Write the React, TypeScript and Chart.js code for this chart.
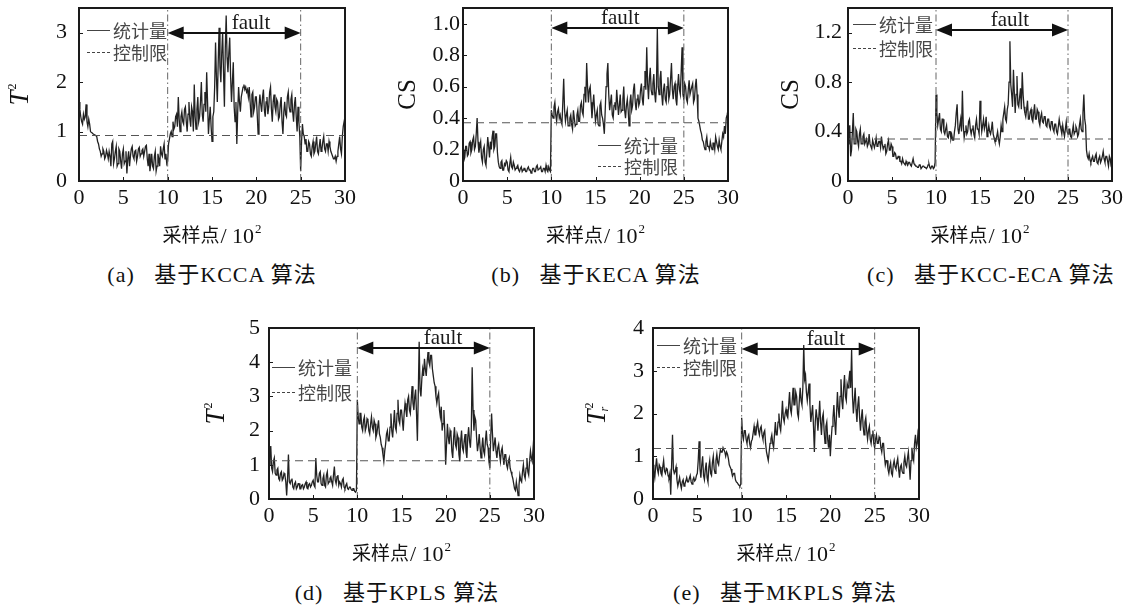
import { useEffect, useRef } from 'react';
import { Chart, registerables } from 'chart.js';

Chart.register(...registerables);

// sampling grid (unit: 10^2 samples)
const sampleStep = 0.1;
const xTickValues = [0, 5, 10, 15, 20, 25, 30];
const xTickLabels = ['0', '5', '10', '15', '20', '25', '30'];
const faultStart = 10;
const faultEnd = 25;
const legendLabels = ['统计量', '控制限'];
const faultLabel = 'fault';
const xAxisTitleMain = '采样点';
const xAxisTitleUnit = '/ 10';
const xAxisTitleExp = '2';

// (a) KCCA  T^2  (one row per 10^2 samples)
const kccaT2 = [
  1.6, 1.45, 1.3, 1.2, 1.15, 1.35, 1.25, 1.3, 1.55, 1.2,
  1.1, 1.25, 1.15, 1.0, 0.98, 0.97, 0.95, 0.94, 0.93, 0.92,
  0.9, 0.8, 0.75, 0.65, 0.6, 0.5, 0.55, 0.65, 0.6, 0.45,
  0.5, 0.62, 0.55, 0.45, 0.6, 0.5, 0.3, 0.75, 0.8, 0.35,
  0.45, 0.6, 0.7, 0.3, 0.35, 0.65, 0.6, 0.4, 0.25, 0.55,
  0.65, 0.35, 0.4, 0.6, 0.15, 0.45, 0.6, 0.3, 0.5, 0.65,
  0.7, 0.5, 0.45, 0.6, 0.62, 0.4, 0.5, 0.65, 0.68, 0.5,
  0.55, 0.62, 0.65, 0.5, 0.6, 0.7, 0.72, 0.45, 0.3, 0.55,
  0.2, 0.35, 0.55, 0.3, 0.25, 0.5, 0.6, 0.2, 0.3, 0.55,
  0.45, 0.3, 0.7, 0.55, 0.5, 0.65, 0.75, 0.45, 0.55, 0.35,
  0.4, 0.75, 0.85, 0.95, 1.0, 0.9, 1.2, 1.05, 1.1, 1.3,
  1.35, 1.1, 1.7, 1.25, 1.0, 1.3, 1.4, 1.2, 1.15, 1.45,
  1.5, 1.2, 1.0, 1.35, 1.6, 1.25, 1.1, 1.5, 1.4, 1.0,
  1.95, 1.3, 1.05, 1.45, 1.7, 1.2, 1.3, 1.6, 2.0, 1.35,
  1.2, 1.55, 1.8, 1.4, 2.2, 1.6, 0.95, 1.25, 1.5, 1.1,
  0.8, 1.3, 1.4, 1.9, 2.8, 2.1, 1.6, 2.4, 3.1, 2.3,
  2.0, 2.6, 3.0, 2.2, 1.5, 2.7, 3.35, 2.5, 2.2, 2.6,
  2.9, 2.1, 1.6, 2.0, 2.4, 1.5, 1.2, 1.6, 0.75, 1.4,
  1.9, 1.6, 1.4, 1.7, 1.8, 1.9, 1.95, 1.85, 1.9, 1.8,
  1.85, 1.7, 1.9, 1.6, 1.3, 1.75, 1.8, 1.4, 1.5, 1.7,
  1.7, 1.35, 0.95, 1.5, 1.75, 1.55, 1.4, 1.7, 1.85, 1.45,
  1.3, 1.6, 1.7, 1.35, 1.5, 1.8, 1.9, 1.45, 1.2, 1.6,
  1.75, 1.5, 1.4, 1.65, 1.6, 1.25, 1.3, 1.55, 1.7, 1.2,
  0.95, 1.4, 1.6, 1.35, 1.3, 1.7, 1.8, 1.5, 1.4, 1.65,
  1.75, 1.4, 1.2, 1.55, 1.7, 1.3, 1.0, 1.5, 1.2, 0.9,
  0.2, 0.8, 1.15, 0.95, 0.9, 0.75, 0.85, 0.6, 0.6, 0.8,
  0.75, 0.55, 0.5, 0.7, 0.8, 0.55, 0.6, 0.75, 0.9, 0.6,
  0.55, 0.7, 0.85, 0.6, 0.65, 0.8, 0.9, 0.65, 0.6, 0.75,
  0.75, 0.6, 0.8, 0.7, 0.6, 0.55, 0.5, 0.45, 0.45, 0.5,
  0.4, 0.5, 0.6, 0.75, 0.9, 0.65, 0.55, 0.9, 1.1, 1.2,
  1.3,
];

// (b) KECA  CS
const kecaCS = [
  0.2, 0.13, 0.15, 0.22, 0.22, 0.16, 0.17, 0.24, 0.25, 0.18,
  0.2, 0.26, 0.28, 0.2, 0.22, 0.3, 0.4, 0.25, 0.18, 0.22,
  0.25, 0.15, 0.12, 0.2, 0.22, 0.12, 0.1, 0.18, 0.28, 0.22,
  0.15, 0.25, 0.2, 0.28, 0.32, 0.2, 0.22, 0.3, 0.3, 0.18,
  0.12, 0.09, 0.08, 0.12, 0.13, 0.07, 0.07, 0.11, 0.1, 0.13,
  0.12, 0.07, 0.06, 0.11, 0.15, 0.09, 0.08, 0.12, 0.1, 0.07,
  0.08, 0.09, 0.1, 0.07, 0.06, 0.08, 0.09, 0.06, 0.07, 0.08,
  0.08, 0.06, 0.06, 0.08, 0.09, 0.07, 0.07, 0.05, 0.06, 0.08,
  0.08, 0.06, 0.06, 0.09, 0.1, 0.07, 0.07, 0.08, 0.09, 0.06,
  0.06, 0.08, 0.08, 0.06, 0.1, 0.07, 0.06, 0.09, 0.07, 0.06,
  0.45, 0.42, 0.4, 0.47, 0.5, 0.42, 0.38, 0.44, 0.46, 0.4,
  0.42, 0.38, 0.36, 0.5, 0.65, 0.45, 0.38, 0.42, 0.45, 0.35,
  0.35, 0.4, 0.42, 0.36, 0.33, 0.45, 0.4, 0.35, 0.36, 0.42,
  0.45, 0.38, 0.38, 0.48, 0.5, 0.44, 0.42, 0.55, 0.6, 0.5,
  0.75, 0.6, 0.5, 0.58, 0.6, 0.5, 0.4, 0.48, 0.55, 0.45,
  0.38, 0.42, 0.45, 0.36, 0.35, 0.48, 0.5, 0.42, 0.4, 0.36,
  0.3, 0.45, 0.6, 0.68, 0.75, 0.55, 0.45, 0.5, 0.55, 0.42,
  0.4, 0.48, 0.5, 0.45, 0.58, 0.5, 0.42, 0.48, 0.55, 0.44,
  0.45, 0.52, 0.6, 0.45, 0.4, 0.48, 0.52, 0.45, 0.35, 0.5,
  0.55, 0.45, 0.48, 0.58, 0.62, 0.5, 0.45, 0.52, 0.55, 0.48,
  0.5, 0.58, 0.62, 0.52, 0.48, 0.6, 0.7, 0.58, 0.85, 0.62,
  0.52, 0.65, 0.72, 0.58, 0.55, 0.62, 0.68, 0.56, 0.5, 0.6,
  0.97, 0.6, 0.55, 0.65, 0.7, 0.55, 0.48, 0.58, 0.62, 0.52,
  0.5, 0.6, 0.66, 0.52, 0.55, 0.65, 0.75, 0.58, 0.52, 0.6,
  0.62, 0.52, 0.48, 0.6, 0.68, 0.58, 0.55, 0.7, 0.85, 0.55,
  0.52, 0.62, 0.6, 0.52, 0.5, 0.58, 0.64, 0.55, 0.55, 0.6,
  0.62, 0.5, 0.52, 0.6, 0.65, 0.55, 0.4, 0.38, 0.35, 0.32,
  0.3, 0.26, 0.25, 0.22, 0.2, 0.25, 0.28, 0.22, 0.22, 0.2,
  0.25, 0.22, 0.2, 0.24, 0.24, 0.2, 0.28, 0.25, 0.22, 0.2,
  0.26, 0.22, 0.2, 0.25, 0.3, 0.28, 0.35, 0.3, 0.4, 0.42,
  0.45,
];

// (c) KCC-ECA  CS
const kccEcaCS = [
  0.3, 0.38, 0.45, 0.2, 0.25, 0.4, 0.55, 0.3, 0.3, 0.42,
  0.4, 0.32, 0.28, 0.38, 0.42, 0.3, 0.3, 0.36, 0.38, 0.3,
  0.32, 0.34, 0.28, 0.3, 0.38, 0.3, 0.3, 0.26, 0.33, 0.3,
  0.27, 0.3, 0.35, 0.28, 0.29, 0.32, 0.32, 0.27, 0.36, 0.3,
  0.26, 0.28, 0.3, 0.22, 0.24, 0.3, 0.33, 0.25, 0.25, 0.3,
  0.28, 0.2, 0.2, 0.23, 0.22, 0.18, 0.18, 0.2, 0.2, 0.16,
  0.16, 0.14, 0.18, 0.15, 0.14, 0.13, 0.16, 0.14, 0.13, 0.15,
  0.15, 0.13, 0.12, 0.15, 0.18, 0.14, 0.13, 0.12, 0.12, 0.11,
  0.11, 0.13, 0.13, 0.1, 0.1, 0.12, 0.12, 0.11, 0.11, 0.1,
  0.11, 0.13, 0.14, 0.11, 0.1, 0.12, 0.12, 0.1, 0.11, 0.15,
  0.7, 0.55, 0.45, 0.5, 0.55, 0.42, 0.4, 0.5, 0.5, 0.4,
  0.38, 0.42, 0.45, 0.36, 0.35, 0.4, 0.4, 0.34, 0.37, 0.33,
  0.33, 0.4, 0.45, 0.55, 0.62, 0.42, 0.38, 0.45, 0.5, 0.4,
  0.73, 0.45, 0.35, 0.4, 0.45, 0.38, 0.4, 0.48, 0.5, 0.42,
  0.38, 0.42, 0.45, 0.38, 0.35, 0.45, 0.5, 0.42, 0.42, 0.38,
  0.65, 0.5, 0.4, 0.45, 0.5, 0.42, 0.45, 0.52, 0.36, 0.4,
  0.45, 0.4, 0.38, 0.42, 0.48, 0.38, 0.35, 0.32, 0.32, 0.36,
  0.4, 0.34, 0.3, 0.36, 0.45, 0.4, 0.5, 0.55, 0.6, 0.5,
  0.48, 0.58, 0.62, 0.8, 1.13, 0.78, 0.7, 0.6, 0.9, 0.72,
  0.55, 0.7, 0.85, 0.62, 0.6, 0.68, 0.75, 0.58, 0.88, 0.7,
  0.6, 0.55, 0.52, 0.58, 0.65, 0.5, 0.5, 0.56, 0.58, 0.5,
  0.48, 0.55, 0.62, 0.5, 0.5, 0.58, 0.56, 0.48, 0.45, 0.52,
  0.55, 0.48, 0.47, 0.52, 0.52, 0.45, 0.44, 0.5, 0.5, 0.44,
  0.42, 0.48, 0.48, 0.42, 0.4, 0.46, 0.46, 0.4, 0.38, 0.44,
  0.5, 0.45, 0.42, 0.38, 0.45, 0.4, 0.36, 0.42, 0.48, 0.4,
  0.38, 0.42, 0.42, 0.36, 0.35, 0.4, 0.45, 0.38, 0.4, 0.44,
  0.42, 0.36, 0.38, 0.45, 0.5, 0.42, 0.4, 0.55, 0.7, 0.5,
  0.45, 0.25, 0.2, 0.18, 0.22, 0.17, 0.15, 0.18, 0.2, 0.16,
  0.16, 0.2, 0.22, 0.15, 0.14, 0.18, 0.2, 0.15, 0.17, 0.2,
  0.24, 0.18, 0.15, 0.2, 0.2, 0.16, 0.12, 0.2, 0.18, 0.12,
  0.1,
];

// (d) KPLS  T^2
const kplsT2 = [
  1.0, 1.3, 1.55, 0.9, 0.8, 1.1, 1.2, 0.75, 0.7, 0.85,
  0.9, 0.6, 0.55, 0.75, 0.8, 0.55, 0.6, 0.75, 0.7, 0.5,
  0.1, 0.6, 1.3, 0.5, 0.45, 0.55, 0.6, 0.35, 0.3, 0.45,
  0.5, 0.3, 0.35, 0.45, 0.45, 0.3, 0.3, 0.4, 0.42, 0.3,
  0.35, 0.45, 0.5, 0.32, 0.3, 0.42, 0.45, 0.35, 0.4, 0.5,
  0.55, 0.4, 0.35, 1.2, 0.7, 0.5, 0.5, 0.75, 0.8, 0.45,
  0.4, 0.6, 0.7, 0.4, 0.35, 0.7, 0.8, 0.45, 0.5, 0.6,
  0.65, 0.5, 0.4, 0.7, 0.95, 0.55, 0.45, 0.65, 0.7, 0.4,
  0.5, 0.45, 0.35, 0.55, 0.6, 0.35, 0.3, 0.4, 0.45, 0.3,
  0.28, 0.35, 0.35, 0.28, 0.25, 0.3, 0.3, 0.22, 0.2, 0.25,
  2.9, 2.4, 2.2, 2.5, 2.5, 2.1, 2.0, 2.3, 2.4, 2.0,
  2.1, 2.35, 2.3, 2.0, 1.9, 2.2, 2.4, 2.1, 2.0, 2.3,
  2.2, 1.8, 1.9, 2.1, 2.3, 1.9, 1.8, 1.6, 1.5, 1.3,
  1.1, 1.4, 1.6, 1.9, 2.0, 1.7, 1.7, 2.1, 2.5, 2.0,
  1.8, 2.2, 2.6, 2.1, 2.0, 2.5, 2.9, 2.3, 2.2, 2.6,
  2.6, 2.3, 2.0, 2.5, 2.8, 2.6, 2.4, 2.9, 3.0, 2.6,
  2.5, 2.9, 3.3, 2.8, 2.6, 3.0, 3.2, 2.5, 1.7, 3.1,
  4.6, 3.2, 3.0, 3.5, 3.8, 3.6, 4.1, 3.8, 3.6, 4.0,
  4.3, 4.0, 3.9, 4.2, 4.2, 3.8, 3.6, 3.4, 3.3, 3.0,
  2.8, 3.0, 3.1, 2.6, 2.4, 2.7, 2.0, 2.2, 2.6, 2.0,
  1.0, 1.6, 2.2, 1.8, 1.6, 2.0, 1.9, 1.4, 1.2, 1.8,
  2.1, 1.6, 1.5, 1.9, 1.8, 1.3, 1.1, 1.7, 2.0, 1.5,
  1.4, 1.7, 1.9, 1.4, 1.2, 1.8, 2.1, 1.7, 1.5, 2.0,
  3.85, 2.6, 2.0, 2.4, 2.3, 1.8, 1.4, 1.6, 1.9, 1.5,
  1.2, 1.5, 1.8, 1.4, 1.3, 1.7, 2.0, 1.6, 1.5, 1.1,
  0.9, 1.8, 2.5, 1.9, 1.4, 1.6, 1.8, 1.4, 1.2, 1.5,
  1.6, 1.3, 1.1, 1.4, 1.5, 1.2, 1.0, 1.3, 1.3, 1.0,
  0.9, 1.1, 1.2, 0.9, 0.8, 0.7, 0.6, 0.45, 0.3, 0.25,
  0.5, 0.3, 0.1, 0.4, 0.7, 0.55, 0.5, 0.8, 1.0, 0.7,
  0.6, 0.9, 1.2, 0.8, 0.7, 1.1, 1.4, 1.2, 1.1, 1.5,
  1.9,
];

// (e) MKPLS  Tr^2
const mkplsTr2 = [
  0.8, 0.65, 0.5, 0.75, 0.95, 0.7, 0.6, 0.8, 0.75, 0.6,
  0.55, 0.75, 0.9, 0.65, 0.6, 0.72, 0.7, 0.55, 0.5, 0.6,
  0.1, 0.8, 1.5, 0.7, 0.6, 0.65, 0.75, 0.45, 0.3, 0.4,
  0.5, 0.35, 0.25, 0.4, 0.45, 0.3, 0.35, 0.42, 0.5, 0.4,
  0.4, 0.48, 0.55, 0.4, 0.35, 0.45, 0.5, 0.42, 0.45, 0.55,
  0.6, 0.9, 1.35, 0.7, 0.5, 0.8, 1.0, 0.55, 0.45, 0.7,
  0.85, 0.5, 0.4, 0.75, 0.9, 0.6, 0.55, 0.85, 1.0, 0.7,
  0.6, 0.9, 1.05, 0.85, 0.8, 1.0, 1.15, 1.1, 1.1, 1.2,
  1.2, 1.1, 1.0, 1.1, 1.05, 0.95, 0.8, 0.75, 0.7, 0.6,
  0.55, 0.6, 0.6, 0.45, 0.4, 0.38, 0.35, 0.32, 0.3, 0.35,
  1.9, 1.5, 1.4, 1.6, 1.6, 1.4, 1.3, 1.45, 1.5, 1.3,
  1.2, 1.35, 1.4, 1.55, 1.7, 1.5, 1.5, 1.7, 1.8, 1.6,
  1.5, 1.65, 1.7, 1.5, 1.4, 1.55, 1.6, 1.3, 1.1, 1.0,
  0.9, 1.1, 1.3, 1.4, 1.5, 1.3, 1.2, 1.5, 1.8, 1.5,
  1.5, 1.8, 2.0, 1.7, 1.6, 1.9, 2.3, 1.9, 1.8, 2.0,
  2.1, 1.95, 1.9, 2.2, 2.5, 2.1, 2.0, 2.3, 2.6, 2.2,
  2.2, 2.5, 2.4, 2.0, 1.9, 2.3, 2.6, 2.3, 2.2, 2.6,
  3.6, 2.8, 2.9, 2.5, 2.3, 2.5, 2.7, 2.2, 1.8, 2.0,
  2.2, 1.7, 1.1, 1.8, 2.1, 1.9, 1.6, 1.9, 2.3, 1.8,
  1.5, 1.9, 2.0, 1.6, 1.3, 1.7, 1.8, 1.4, 1.2, 1.5,
  1.0, 1.4, 1.7, 1.9, 2.2, 1.8, 1.5, 2.0, 2.5, 2.1,
  1.9, 2.4, 2.8, 2.3, 2.1, 2.6, 2.9, 2.4, 2.3, 2.7,
  2.6, 2.8, 3.0, 2.6, 3.5, 2.4, 2.0, 2.3, 2.6, 2.1,
  1.8, 2.2, 2.4, 1.9, 1.6, 1.9, 2.1, 1.7, 1.5, 1.8,
  1.9, 1.6, 1.4, 1.6, 1.7, 1.4, 1.3, 1.5, 1.6, 1.3,
  1.2, 1.4, 1.5, 1.3, 1.3, 1.45, 1.4, 1.2, 1.1, 1.3,
  1.3, 1.0, 0.8, 0.9, 0.9, 0.7, 0.6, 0.75, 0.85, 0.6,
  0.55, 0.8, 0.9, 0.75, 0.7, 0.85, 0.95, 0.7, 0.5, 0.75,
  0.8, 0.65, 0.6, 0.85, 1.0, 0.8, 0.75, 0.95, 1.1, 0.8,
  0.45, 0.9, 1.2, 1.0, 0.9, 1.3, 1.5, 1.2, 1.3, 1.6,
  1.7,
];

const controlLimits = [0.92, 0.37, 0.34, 1.12, 1.18];
const yMaxima = [3.5, 1.1, 1.4, 5, 4];
const yTickSets = [
  [0, 1, 2, 3],
  [0, 0.2, 0.4, 0.6, 0.8, 1.0],
  [0, 0.4, 0.8, 1.2],
  [0, 1, 2, 3, 4, 5],
  [0, 1, 2, 3, 4],
];
const yTickLabelSets = [
  ['0', '1', '2', '3'],
  ['0', '0.2', '0.4', '0.6', '0.8', '1.0'],
  ['0', '0.4', '0.8', '1.2'],
  ['0', '1', '2', '3', '4', '5'],
  ['0', '1', '2', '3', '4'],
];
const yTitles = [
  { main: 'T', italic: true, sup: '2', sub: '' },
  { main: 'CS', italic: false, sup: '', sub: '' },
  { main: 'CS', italic: false, sup: '', sub: '' },
  { main: 'T', italic: true, sup: '2', sub: '' },
  { main: 'T', italic: true, sup: '2', sub: 'r' },
];
const captions = [
  '(a)   基于KCCA 算法',
  '(b)   基于KECA 算法',
  '(c)   基于KCC-ECA 算法',
  '(d)   基于KPLS 算法',
  '(e)   基于MKPLS 算法',
];
const arrowLevels = [3.0, 0.97, 1.22, 4.42, 3.51];
const faultLabelPositions = [19.4, 17.8, 18.4, 19.7, 19.5];
const seriesList = [kccaT2, kecaCS, kccEcaCS, kplsT2, mkplsTr2];

// layout (pixels)
const layouts = [
  { canvas: [0, 0, 370, 255], plot: [79, 8, 345, 181], yGap: 12, yTitleOff: 60, legend: [8, 22, 44], caption: [212, 275] },
  { canvas: [380, 0, 370, 255], plot: [463, 8, 728, 181], yGap: 3, yTitleOff: 56, legend: [135, 137, 158], caption: [596, 275] },
  { canvas: [760, 0, 369, 255], plot: [848, 8, 1112, 181], yGap: 6, yTitleOff: 58, legend: [5, 16, 40], caption: [991, 275] },
  { canvas: [190, 285, 370, 288], plot: [269, 328, 534, 499], yGap: 9, yTitleOff: 54, legend: [3, 39, 64], caption: [397, 593] },
  { canvas: [570, 285, 370, 288], plot: [653, 328, 919, 499], yGap: 9, yTitleOff: 57, legend: [4, 17, 39], caption: [785, 593] },
];

const SERIF = "'Liberation Serif', 'Noto Sans CJK SC', serif";
const CJK = "'Noto Sans CJK SC', sans-serif";

const decorPlugin = {
  id: 'decor',
  afterDatasetsDraw(chart: any, _args: any, opts: any) {
    const { ctx, chartArea: a } = chart;
    const xs = chart.scales.x;
    const ys = chart.scales.y;
    ctx.save();
    ctx.setLineDash([]);

    // fault arrow
    const ay = Math.round(ys.getPixelForValue(opts.arrowY));
    const x1 = xs.getPixelForValue(faultStart);
    const x2 = xs.getPixelForValue(faultEnd);
    const hl = 16, hh = 6.5;
    ctx.strokeStyle = '#111';
    ctx.fillStyle = '#111';
    ctx.lineWidth = 2;
    ctx.beginPath();
    ctx.moveTo(x1 + hl - 2, ay);
    ctx.lineTo(x2 - hl + 2, ay);
    ctx.stroke();
    ctx.beginPath();
    ctx.moveTo(x1, ay);
    ctx.lineTo(x1 + hl, ay - hh);
    ctx.lineTo(x1 + hl, ay + hh);
    ctx.closePath();
    ctx.fill();
    ctx.beginPath();
    ctx.moveTo(x2, ay);
    ctx.lineTo(x2 - hl, ay - hh);
    ctx.lineTo(x2 - hl, ay + hh);
    ctx.closePath();
    ctx.fill();
    ctx.font = `21px ${SERIF}`;
    ctx.textAlign = 'center';
    ctx.textBaseline = 'alphabetic';
    ctx.fillStyle = '#1a1a1a';
    ctx.fillText(faultLabel, xs.getPixelForValue(opts.faultX), ay - 4);

    // legend
    const [ldx, ldy1, ldy2] = opts.legend;
    const lx = a.left + ldx;
    ctx.strokeStyle = '#444';
    ctx.lineWidth = 1;
    ctx.beginPath();
    ctx.moveTo(lx, a.top + ldy1 + 0.5);
    ctx.lineTo(lx + 23, a.top + ldy1 + 0.5);
    ctx.stroke();
    ctx.setLineDash([3, 2]);
    ctx.beginPath();
    ctx.moveTo(lx, a.top + ldy2 + 0.5);
    ctx.lineTo(lx + 23, a.top + ldy2 + 0.5);
    ctx.stroke();
    ctx.setLineDash([]);
    ctx.font = `18px ${CJK}`;
    ctx.textAlign = 'left';
    ctx.textBaseline = 'middle';
    ctx.fillStyle = '#484848';
    ctx.fillText(legendLabels[0], lx + 26, a.top + ldy1 + 1);
    ctx.fillText(legendLabels[1], lx + 26, a.top + ldy2 + 1);

    // frame
    ctx.strokeStyle = '#1a1a1a';
    ctx.lineWidth = 2;
    ctx.strokeRect(a.left, a.top, a.right - a.left, a.bottom - a.top);

    // inward ticks
    ctx.lineWidth = 1;
    ctx.beginPath();
    for (const t of xs.ticks) {
      const px = Math.round(xs.getPixelForValue(t.value)) + 0.5;
      ctx.moveTo(px, a.bottom);
      ctx.lineTo(px, a.bottom - 4);
    }
    for (const t of ys.ticks) {
      const py = Math.round(ys.getPixelForValue(t.value)) + 0.5;
      ctx.moveTo(a.left, py);
      ctx.lineTo(a.left + 4, py);
    }
    ctx.stroke();

    // x title: 采样点/10^2
    {
      const cjkFont = `19px ${CJK}`;
      const unitFont = `22px ${SERIF}`;
      const expFont = `13px ${SERIF}`;
      ctx.font = cjkFont;
      const w1 = ctx.measureText(xAxisTitleMain).width;
      ctx.font = unitFont;
      const w2 = ctx.measureText(xAxisTitleUnit).width;
      ctx.font = expFont;
      const w3 = ctx.measureText(xAxisTitleExp).width;
      const total = w1 + 1 + w2 + 1 + w3;
      let tx = (a.left + a.right) / 2 - total / 2;
      const base = a.bottom + 62;
      ctx.fillStyle = '#111';
      ctx.textAlign = 'left';
      ctx.textBaseline = 'alphabetic';
      ctx.font = cjkFont;
      ctx.fillText(xAxisTitleMain, tx, base - 1);
      tx += w1 + 1;
      ctx.font = unitFont;
      ctx.fillText(xAxisTitleUnit, tx, base);
      tx += w2 + 1;
      ctx.font = expFont;
      ctx.fillText(xAxisTitleExp, tx, base - 10);
    }

    // y title
    const tt = opts.yTitle;
    const cx = a.left - opts.yTitleOff;
    const cy = (a.top + a.bottom) / 2;
    ctx.translate(cx, cy);
    ctx.rotate(-Math.PI / 2);
    const mainSize = tt.italic ? 27 : 25;
    const smallSize = 12;
    const mainFont = `${tt.italic ? 'italic ' : ''}${mainSize}px ${SERIF}`;
    const supFont = `${smallSize}px ${SERIF}`;
    const subFont = `italic ${smallSize}px ${SERIF}`;
    ctx.font = mainFont;
    const mw = ctx.measureText(tt.main).width;
    let sw = 0;
    if (tt.sup) { ctx.font = supFont; sw = Math.max(sw, ctx.measureText(tt.sup).width); }
    if (tt.sub) { ctx.font = subFont; sw = Math.max(sw, ctx.measureText(tt.sub).width); }
    const total = mw + (sw ? sw + 1 : 0);
    const x0 = -total / 2;
    const base = mainSize * 0.33;
    ctx.fillStyle = '#111';
    ctx.textAlign = 'left';
    ctx.textBaseline = 'alphabetic';
    ctx.font = mainFont;
    ctx.fillText(tt.main, x0, base);
    if (tt.sup) {
      ctx.font = supFont;
      ctx.fillText(tt.sup, x0 + mw + 1, base - mainSize * 0.45);
    }
    if (tt.sub) {
      ctx.font = subFont;
      ctx.fillText(tt.sub, x0 + mw - 2, base + smallSize * 0.25);
    }
    ctx.restore();
  },
};

function Panel({ index }: { index: number }) {
  const ref = useRef<HTMLCanvasElement | null>(null);
  const lay = layouts[index];
  const [cl, ct, cw, chh] = lay.canvas;
  const [pl, pt, pr, pb] = lay.plot;

  useEffect(() => {
    if (!ref.current) return;
    const values = seriesList[index];
    const points = values.map((v, i) => ({ x: i * sampleStep, y: v }));
    const yMax = yMaxima[index];
    const limit = controlLimits[index];
    const yTicks = yTickSets[index];
    const yLabels = yTickLabelSets[index];
    const yAxisWidth = pl - cl;
    const xAxisHeight = ct + chh - pb;

    const chart = new Chart(ref.current, {
      type: 'line',
      data: {
        datasets: [
          {
            data: [{ x: faultStart, y: 0 }, { x: faultStart, y: yMax }],
            borderColor: '#666',
            borderWidth: 1,
            borderDash: [7, 3, 1.5, 3],
            pointRadius: 0,
          },
          {
            data: [{ x: faultEnd, y: 0 }, { x: faultEnd, y: yMax }],
            borderColor: '#666',
            borderWidth: 1,
            borderDash: [7, 3, 1.5, 3],
            pointRadius: 0,
          },
          {
            data: [{ x: 0, y: limit }, { x: 30, y: limit }],
            borderColor: '#555',
            borderWidth: 1.1,
            borderDash: [8, 5],
            pointRadius: 0,
          },
          {
            data: points,
            borderColor: '#222',
            borderWidth: 1.3,
            pointRadius: 0,
            tension: 0,
          },
        ],
      },
      options: {
        responsive: false,
        animation: false,
        events: [],
        layout: { padding: { top: pt - ct, right: cl + cw - pr, left: 0, bottom: 0 } },
        plugins: {
          legend: { display: false },
          tooltip: { enabled: false },
          decor: {
            arrowY: arrowLevels[index],
            faultX: faultLabelPositions[index],
            legend: lay.legend,
            yTitle: yTitles[index],
            yTitleOff: lay.yTitleOff,
          },
        } as any,
        scales: {
          x: {
            type: 'linear',
            min: 0,
            max: 30,
            grid: { display: false, drawTicks: false },
            border: { display: false },
            afterBuildTicks: (s: any) => { s.ticks = xTickValues.map((v) => ({ value: v })); },
            afterFit: (s: any) => { s.height = xAxisHeight; s.paddingLeft = 0; s.paddingRight = 0; },
            ticks: {
              padding: 4,
              maxRotation: 0,
              color: '#111',
              font: { family: SERIF, size: 22 },
              callback: (_v: any, i: number) => xTickLabels[i],
            },
          },
          y: {
            type: 'linear',
            min: 0,
            max: yMax,
            grid: { display: false, drawTicks: false },
            border: { display: false },
            afterBuildTicks: (s: any) => { s.ticks = yTicks.map((v) => ({ value: v })); },
            afterFit: (s: any) => { s.width = yAxisWidth; s.paddingTop = 0; s.paddingBottom = 0; },
            ticks: {
              padding: lay.yGap,
              color: '#111',
              font: { family: SERIF, size: 22 },
              callback: (_v: any, i: number) => yLabels[i],
            },
          },
        },
      },
      plugins: [decorPlugin],
    } as any);
    return () => chart.destroy();
  }, [index]);

  const [capX, capY] = lay.caption;
  return (
    <>
      <canvas
        ref={ref}
        width={cw}
        height={chh}
        style={{ position: 'absolute', left: cl, top: ct, width: cw, height: chh }}
      />
      <div
        style={{
          position: 'absolute',
          left: capX - 200,
          top: capY - 14,
          width: 400,
          height: 28,
          lineHeight: '28px',
          textAlign: 'center',
          whiteSpace: 'pre',
          fontFamily: SERIF,
          fontSize: 22,
          letterSpacing: '1px',
          color: '#111',
        }}
      >
        {captions[index]}
      </div>
    </>
  );
}

export default function App() {
  return (
    <div style={{ position: 'absolute', left: 0, top: 0, width: 1129, height: 607, background: '#fff', overflow: 'hidden' }}>
      {[0, 1, 2, 3, 4].map((i) => (
        <Panel key={i} index={i} />
      ))}
    </div>
  );
}
